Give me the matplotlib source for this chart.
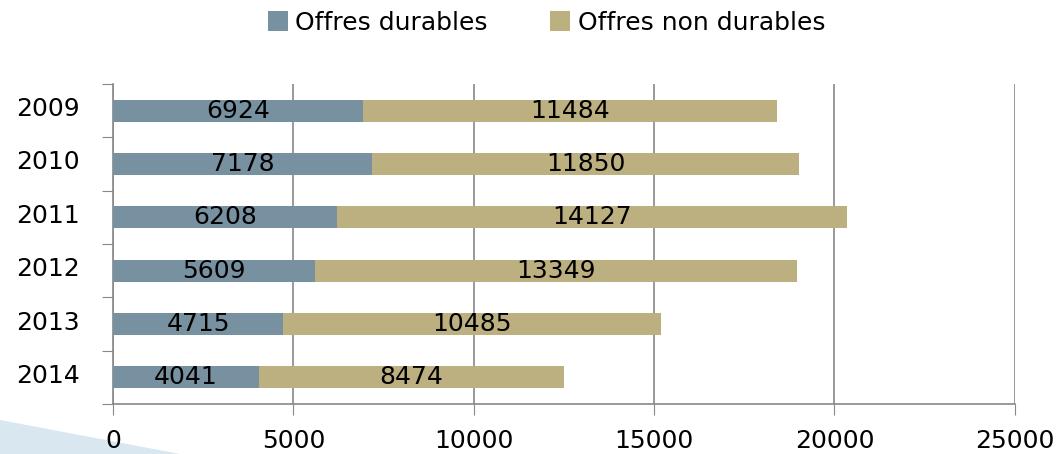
import numpy as np
import matplotlib.pyplot as plt
from matplotlib.patches import Polygon
from matplotlib.transforms import ScaledTranslation

years = ["2009", "2010", "2011", "2012", "2013", "2014"]
durables = [6924, 7178, 6208, 5609, 4715, 4041]
non_durables = [11484, 11850, 14127, 13349, 10485, 8474]

c_dur = "#7891a0"
c_non = "#bcb080"
grey = "#888888"
fs = 18

fig = plt.figure(figsize=(10.61, 4.54), dpi=100)
ax = fig.add_axes([0.1065, 0.1101, 0.85, 0.7049])

# decorative light blue shape bottom-left
fig.patches.append(Polygon([[0, 0], [0, 34 / 454], [180 / 1061, 0]],
                           closed=True, transform=fig.transFigure,
                           facecolor="#d8e7f0", edgecolor="none", zorder=-1))

y = np.arange(len(years))
h = 0.41
b1 = ax.barh(y, durables, height=h, color=c_dur, label="Offres durables", zorder=3)
b2 = ax.barh(y, non_durables, left=durables, height=h, color=c_non,
             label="Offres non durables", zorder=3)

for bars, vals in [(b1, durables), (b2, non_durables)]:
    for rect, v in zip(bars, vals):
        ax.text(rect.get_x() + rect.get_width() / 2, rect.get_y() + rect.get_height() / 2,
                str(v), ha="center", va="center", fontsize=fs, color="black", zorder=4)

ax.set_xlim(0, 25000)
ax.set_ylim(len(years) - 0.5, -0.5)
ax.set_xticks(range(0, 25001, 5000))
ax.set_xticklabels([str(v) for v in range(0, 25001, 5000)], fontsize=fs)
ax.tick_params(axis="x", length=8, color=grey, pad=10)

ax.set_yticks(np.arange(-0.5, len(years), 1))
ax.set_yticklabels([])
ax.set_yticks(y, minor=True)
ax.set_yticklabels(years, minor=True, fontsize=fs)
ax.tick_params(axis="y", which="major", length=8, color=grey)
ax.tick_params(axis="y", which="minor", length=0, pad=24)
# nudge year labels up a little, as in the original
for lbl in ax.get_yticklabels(minor=True):
    lbl.set_transform(lbl.get_transform() + ScaledTranslation(0, 4 / 100, fig.dpi_scale_trans))

ax.grid(axis="x", color=grey, linewidth=1.2, zorder=0)
for s in ["top", "right"]:
    ax.spines[s].set_visible(False)
for s in ["left", "bottom"]:
    ax.spines[s].set_color(grey)
    ax.spines[s].set_linewidth(1.2)

fig.legend(handles=[b1, b2], loc="center", bbox_to_anchor=(0.515, 0.95), ncol=2,
           frameon=False, fontsize=fs, handlelength=0.8, handleheight=0.8,
           columnspacing=2.5, handletextpad=0.3)

fig.savefig("out.png", dpi=100)
